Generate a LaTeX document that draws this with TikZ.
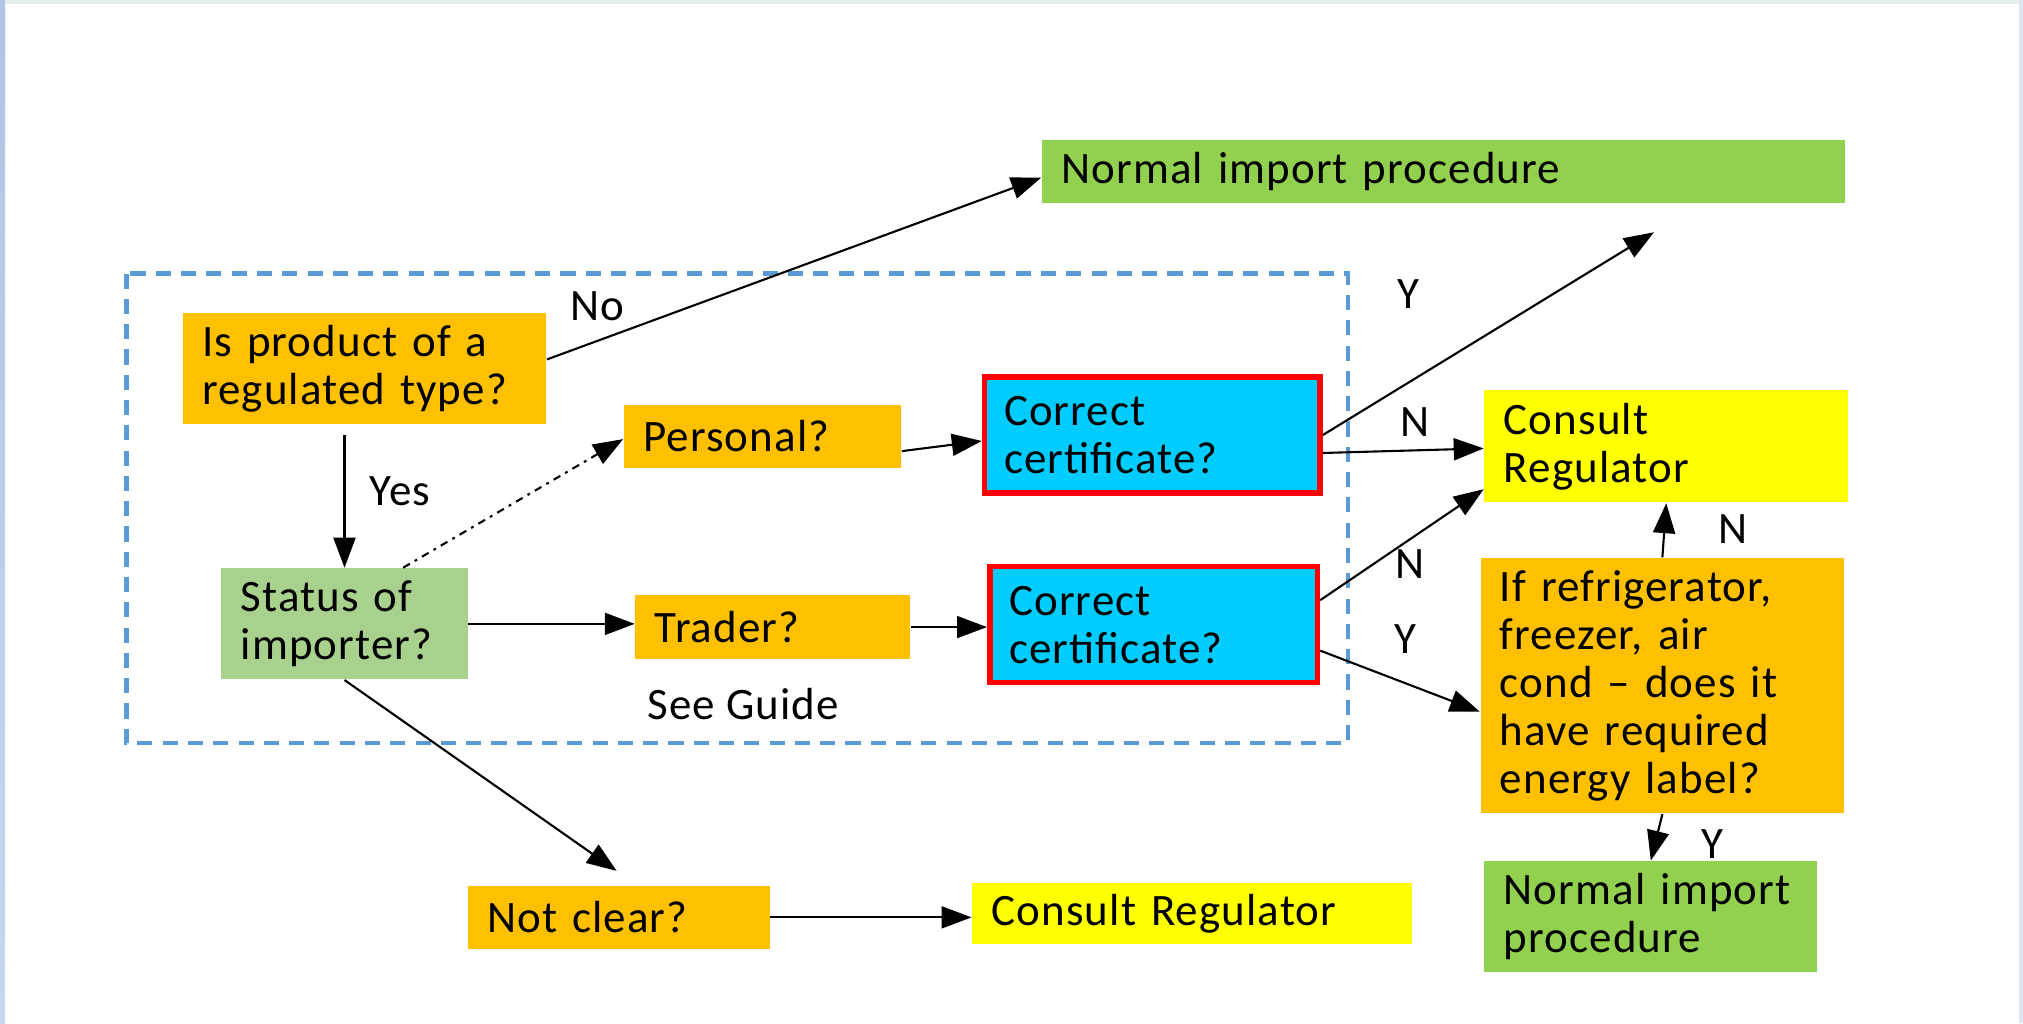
\documentclass[tikz,border=0pt]{standalone}
\usepackage{fontspec}
\setmainfont{Carlito}[LetterSpace=2.5]
\usetikzlibrary{arrows.meta}
\definecolor{orng}{HTML}{FFC000}
\definecolor{grn}{HTML}{92D050}
\definecolor{lgrn}{HTML}{A9D18E}
\definecolor{cyn}{HTML}{00CCFF}
\definecolor{yel}{HTML}{FFFF00}
\definecolor{redb}{HTML}{FF0000}
\definecolor{dashblue}{HTML}{5B9BD5}
\definecolor{edgegray}{HTML}{E8EEF0}
\definecolor{edgeblueA}{HTML}{AFC4E6}
\definecolor{edgeblueB}{HTML}{C8D7EF}
\definecolor{edgeright}{HTML}{DDE6F1}
\newcommand{\fs}{\fontsize{12.8}{13.7}\selectfont}
\tikzset{
  bx/.style={anchor=north west, inner xsep=0.194cm, inner ysep=0pt, align=left, font=\fs},
  arr/.style={-{Triangle[length=0.3cm,width=0.22cm]}, line width=0.6pt},
  lbl/.style={font=\fs, inner sep=0pt},
  certbox/.style={bx, fill=cyn, draw=redb, line width=1.6pt},
  dotarr/.style={arr, dash pattern=on 2.2pt off 1.6pt on 0.8pt off 1.6pt}
}
\begin{document}
\begin{tikzpicture}[x=0.012902cm, y=-0.012902cm]
\useasboundingbox (0,0) rectangle (1568,793);
\fill[white] (0,0) rectangle (1568,793);
% edge strips
\fill[edgegray] (0,0) rectangle (1568,3);
\shade[top color=edgeblueA, bottom color=edgeblueB] (0,0) rectangle (4,793);
\fill[edgeright] (1565,0) rectangle (1568,793);

% dashed frame
\draw[dashblue, line width=1.2pt, dash pattern=on 4.3pt off 2.9pt] (98,212) rectangle (1045,576);

% boxes
\node[bx, fill=grn, text width=7.651cm, minimum height=0.632cm] (norm1) at (807,108) {Normal import procedure};
\node[bx, fill=orng, text width=3.251cm, minimum height=1.110cm] (isprod) at (141,242) {Is product of a\\regulated type?};
\node[bx, fill=orng, text width=2.387cm, minimum height=0.632cm] (personal) at (483,313) {Personal?};
\node[certbox, text width=2.968cm, minimum height=1.161cm] (cert1) at (761,290) {Correct\\certificate?};
\node[bx, fill=yel, text width=3.251cm, minimum height=1.122cm] (consult1) at (1150,302) {Consult\\Regulator};
\node[bx, fill=lgrn, text width=2.077cm, minimum height=1.110cm] (status) at (171,440) {Status of\\importer?};
\node[bx, fill=orng, text width=2.361cm, minimum height=0.632cm] (trader) at (492,461) {Trader?};
\node[certbox, text width=2.890cm, minimum height=1.161cm] (cert2) at (765,437) {Correct\\certificate?};
\node[bx, fill=orng, text width=3.251cm, minimum height=2.555cm] (refrig) at (1147,432) {If refrigerator,\\freezer, air\\cond -- does it\\have required\\energy label?};
\node[bx, fill=orng, text width=2.632cm, minimum height=0.632cm] (notclear) at (362,686) {Not clear?};
\node[bx, fill=yel, text width=4.013cm, minimum height=0.606cm] (consult2) at (753,684) {Consult Regulator};
\node[bx, fill=grn, text width=2.942cm, minimum height=1.110cm] (norm2) at (1150,667) {Normal import\\procedure};

% free end points
\coordinate (yend) at (1282,180);
\coordinate (ncend) at (478,675);

% labels
\node[lbl] (lno) at (463,237) {No};
\node[lbl] (lyes) at (310,381) {Yes};
\node[lbl] (ly1) at (1092,228) {Y};
\node[lbl] (ln1) at (1097,327) {N};
\node[lbl] (ln2) at (1093,437) {N};
\node[lbl] (ly2) at (1089,495) {Y};
\node[lbl] (ln3) at (1343,410) {N};
\node[lbl] (ly3) at (1327,654) {Y};
\node[lbl] (guide) at (576,546) {See Guide};

% connectors
\draw[arr] ([yshift=0.09cm]isprod.east) -- ([yshift=-0.06cm]norm1.west);
\draw[arr, shorten <=0.1cm] (status.north |- isprod.south) -- (status.north);
\draw[dotarr] ([xshift=0.587cm]status.north) -- ([yshift=-0.03cm]personal.west);
\draw[arr] (status.east) -- (status.east -| trader.west);
\draw[arr] ([yshift=-0.15cm]personal.east) -- ([yshift=-0.06cm]cert1.west);
\draw[arr] (trader.east) -- (trader.east -| cert2.west);
\draw[arr] (cert1.east) -- (yend);
\draw[arr] ([yshift=-0.18cm]cert1.east) -- ([yshift=-0.02cm]consult1.west);
\draw[arr] ([yshift=0.245cm]cert2.east) -- ([yshift=0.14cm]consult1.south west);
\draw[arr] ([yshift=-0.26cm]cert2.east) -- ([yshift=-0.26cm]refrig.west);
\draw[arr] (refrig.north) -- (consult1.south);
\draw[arr] (refrig.south) -- (norm2.north);
\draw[arr] (status.south) -- (ncend);
\draw[arr] (notclear.east) -- (notclear.east -| consult2.west);
\end{tikzpicture}
\end{document}
